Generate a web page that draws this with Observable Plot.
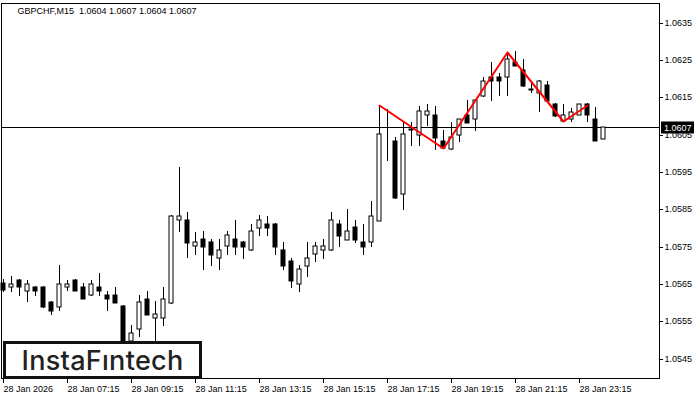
<!DOCTYPE html>
<html>
<head>
<meta charset="utf-8">
<script src="https://cdn.jsdelivr.net/npm/d3@7"></script>
<script src="https://cdn.jsdelivr.net/npm/@observablehq/plot@0.6"></script>
<style>
  html, body { margin: 0; padding: 0; background: #fff; }
  #wrap { position: relative; width: 700px; height: 400px; }
  #logo {
    position: absolute; left: 3px; top: 341px; width: 199px; height: 38px;
    box-sizing: border-box; border: 3px solid #111; background: #fff;
    display: flex; align-items: center; justify-content: center;
    font-family: Inter, "Noto Sans", sans-serif; font-weight: 500; font-size: 27px;
    color: #222; letter-spacing: 0.3px;
  }
</style>
</head>
<body>
<div id="wrap"><div id="chart"></div><div id="logo">InstaFıntech</div></div>
<script>
const titleText = "GBPCHF,M15  1.0604 1.0607 1.0604 1.0607";
const currentPrice = 1.0607;

const open = [1.05653,1.05643,1.05662,1.05632,1.05643,1.05643,1.05603,1.05589,1.05643,1.05662,
  1.05643,1.05621,1.05643,1.05621,1.05621,1.05592,1.05498,1.05530,1.05611,1.05560,
  1.05560,1.05600,1.05822,1.05822,1.05753,1.05771,1.05763,1.05720,1.05753,1.05771,
  1.05763,1.05742,1.05801,1.05812,1.05812,1.05742,1.05712,1.05651,1.05699,1.05731,
  1.05742,1.05742,1.05812,1.05769,1.05803,1.05763,1.05763,1.05820,1.06045,1.06034,
  1.05892,1.06063,1.06050,1.06104,1.06104,1.06034,1.06012,1.06050,1.06104,1.06093,
  1.06154,1.06205,1.06205,1.06205,1.06246,1.06224,1.06172,1.06162,1.06184,1.06133,
  1.06087,1.06093,1.06104,1.06133,1.06093,1.06040];
const high = [1.05664,1.05672,1.05664,1.05662,1.05645,1.05645,1.05605,1.05702,1.05662,1.05664,
  1.05653,1.05662,1.05680,1.05632,1.05643,1.05594,1.05541,1.05621,1.05632,1.05605,
  1.05643,1.05835,1.05964,1.05844,1.05790,1.05793,1.05771,1.05771,1.05793,1.05822,
  1.05765,1.05812,1.05835,1.05833,1.05814,1.05763,1.05720,1.05702,1.05763,1.05763,
  1.05771,1.05844,1.05822,1.05852,1.05822,1.05812,1.05873,1.06130,1.06120,1.06045,
  1.06085,1.06085,1.06128,1.06133,1.06128,1.06063,1.06085,1.06093,1.06144,1.06146,
  1.06205,1.06246,1.06216,1.06272,1.06275,1.06254,1.06195,1.06197,1.06195,1.06135,
  1.06133,1.06122,1.06133,1.06135,1.06125,1.06070];
const low = [1.05629,1.05629,1.05619,1.05603,1.05619,1.05587,1.05568,1.05578,1.05632,1.05632,
  1.05611,1.05619,1.05619,1.05578,1.05600,1.05470,1.05490,1.05509,1.05566,1.05498,
  1.05538,1.05598,1.05790,1.05720,1.05729,1.05688,1.05699,1.05688,1.05729,1.05729,
  1.05718,1.05740,1.05779,1.05779,1.05729,1.05688,1.05640,1.05629,1.05670,1.05710,
  1.05718,1.05740,1.05750,1.05767,1.05761,1.05729,1.05750,1.05818,1.05980,1.05879,
  1.05849,1.06020,1.06020,1.06074,1.06010,1.06015,1.06010,1.06031,1.06082,1.06061,
  1.06152,1.06141,1.06154,1.06154,1.06233,1.06179,1.06162,1.06112,1.06139,1.06099,
  1.06085,1.06085,1.06102,1.06085,1.06034,1.06040];
const close = [1.05635,1.05651,1.05643,1.05651,1.05632,1.05589,1.05578,1.05651,1.05651,1.05632,
  1.05611,1.05651,1.05632,1.05611,1.05600,1.05490,1.05520,1.05603,1.05568,1.05570,
  1.05611,1.05833,1.05833,1.05761,1.05763,1.05750,1.05729,1.05742,1.05782,1.05750,
  1.05750,1.05793,1.05822,1.05801,1.05750,1.05699,1.05659,1.05691,1.05720,1.05753,
  1.05753,1.05822,1.05779,1.05793,1.05769,1.05750,1.05833,1.06053,1.06043,1.05881,
  1.06053,1.06065,1.06114,1.06114,1.06042,1.06015,1.06045,1.06093,1.06082,1.06144,
  1.06195,1.06195,1.06195,1.06254,1.06235,1.06181,1.06171,1.06195,1.06141,1.06101,
  1.06104,1.06112,1.06133,1.06104,1.06034,1.06070];

const xTickIndex = [0, 8, 16, 24, 32, 40, 48, 56, 64, 72];
const xTickLabels = ["28 Jan 2026","28 Jan 07:15","28 Jan 09:15","28 Jan 11:15","28 Jan 13:15",
  "28 Jan 15:15","28 Jan 17:15","28 Jan 19:15","28 Jan 21:15","28 Jan 23:15"];
const yTicks = [1.0545,1.0555,1.0565,1.0575,1.0585,1.0595,1.0605,1.0615,1.0625,1.0635];

const patternIndex = [47, 55, 63, 70, 73];
const patternPrice = [1.06131, 1.06014, 1.06273, 1.06087, 1.06131];

const candles = open.map((o, i) => ({i, o, h: high[i], l: low[i], c: close[i]}));
const pattern = patternIndex.map((i, k) => ({i, p: patternPrice[k]}));

const font = "'Liberation Sans', Arial, sans-serif";

const chart = Plot.plot({
  width: 700, height: 400,
  marginLeft: 1, marginRight: 41, marginTop: 3, marginBottom: 22,
  style: {fontFamily: font, fontSize: "9px", color: "#000", background: "#fff"},
  x: {domain: [-0.25, 82], axis: null, round: true},
  y: {domain: [1.0539859, 1.0640304], axis: null, round: true},
  marks: [
    Plot.axisY({anchor: "right", ticks: yTicks, tickSize: 3, tickPadding: 2, label: null,
      tickFormat: d3.format(".4f"), stroke: "#000", fill: "#000", fontSize: 9}),
    Plot.axisX({anchor: "bottom", ticks: xTickIndex, tickSize: 5, tickPadding: 2, label: null,
      tickFormat: (d) => xTickLabels[xTickIndex.indexOf(d)], textAnchor: "start",
      stroke: "#000", fill: "#000", fontSize: 9}),
    Plot.ruleY([currentPrice], {stroke: "#000", strokeWidth: 1}),
    Plot.ruleX(candles, {x: "i", y1: "l", y2: "h", stroke: "#000", strokeWidth: 1}),
    Plot.rectY(candles, {x1: d => d.i - 0.25, x2: d => d.i + 0.25, y1: "o", y2: "c",
      fill: d => d.c >= d.o ? "#fff" : "#000", stroke: "#000", strokeWidth: 1}),
    Plot.line(pattern, {x: "i", y: "p", stroke: "#ff0000", strokeWidth: 2}),
    Plot.text([titleText], {frameAnchor: "top-left", dx: 16, dy: 4, lineAnchor: "top",
      textAnchor: "start", fill: "#000", fontSize: 9}),
    Plot.frame({stroke: "#000"})
  ]
});

document.getElementById("chart").appendChild(chart);

// current price label box on the right axis
const svg = d3.select(chart);
const yPos = chart.scale("y").apply(currentPrice);
const g = svg.append("g");
g.append("rect").attr("x", 661).attr("y", yPos - 5.5).attr("width", 33).attr("height", 12).attr("fill", "#000");
g.append("text").attr("x", 664).attr("y", yPos + 0.5).attr("dy", "0.35em")
  .attr("text-anchor", "start").attr("fill", "#fff")
  .attr("font-family", font).attr("font-size", 9).text(d3.format(".4f")(currentPrice));
</script>
</body>
</html>
